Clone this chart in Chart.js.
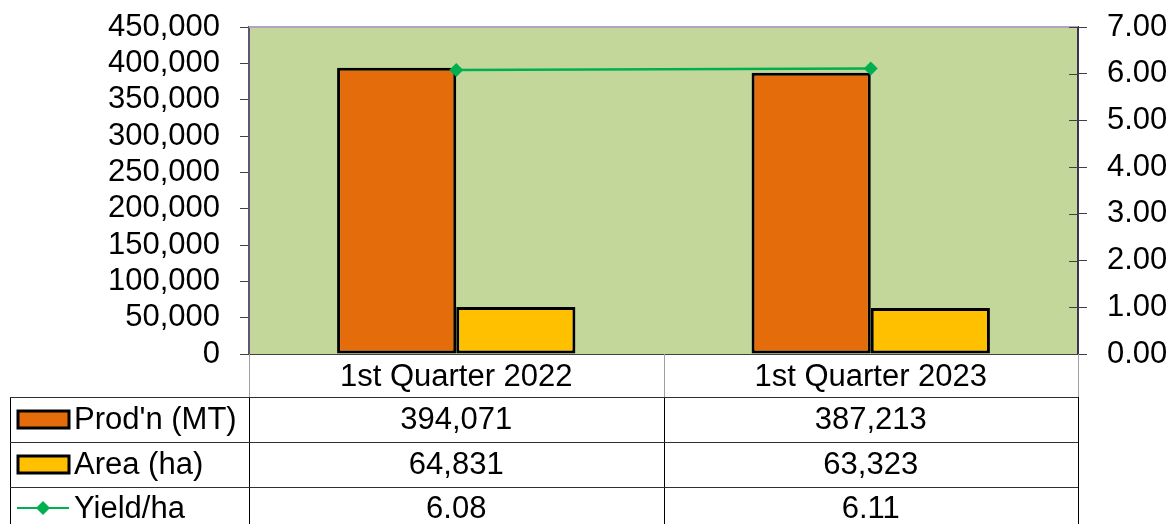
<!DOCTYPE html>
<html>
<head>
<meta charset="utf-8">
<script src="https://cdn.jsdelivr.net/npm/chart.js@4"></script>
<style>
  body { margin: 0; background: #fff; }
  canvas { display: block; }
</style>
</head>
<body>
<canvas id="grafico" width="1176" height="524"></canvas>
<script>
// DATOS
const categorias = ['1st Quarter 2022', '1st Quarter 2023']
const produccion = [394071, 387213]
const area = [64831, 63323]
const rendimiento = [6.08, 6.11]
const nombresSeries = ["Prod'n (MT)", 'Area (ha)', 'Yield/ha']

const FUENTE = '"Liberation Sans", Arial, sans-serif'
const TAM = 31
const NARANJA = '#E46C0A'
const AMARILLO = '#FFC000'
const VERDE = '#00B050'

function fmtMiles(v) {
    return Number(v).toLocaleString('en-US')
}

// plugin: fondo del área, bordes, y tabla de datos debajo
const pluginTabla = {
    id: 'tabla',
    beforeDraw(chart) {
        const { ctx, chartArea: a } = chart
        ctx.save()
        ctx.fillStyle = '#C4D79B'
        ctx.fillRect(a.left, a.top, a.right - a.left, a.bottom - a.top)
        ctx.restore()
    },
    afterDraw(chart) {
        const { ctx, chartArea: a } = chart
        const x = chart.scales.x
        const yR = chart.scales.yR
        ctx.save()

        // borde superior
        ctx.strokeStyle = '#B3A2C7'
        ctx.lineWidth = 2
        ctx.beginPath()
        ctx.moveTo(a.left, a.top)
        ctx.lineTo(a.right, a.top)
        ctx.stroke()

        // marcas interiores del eje derecho
        ctx.strokeStyle = '#404040'
        ctx.lineWidth = 1
        yR.ticks.forEach((t, i) => {
            const py = Math.round(yR.getPixelForTick(i)) + 0.5
            ctx.beginPath()
            ctx.moveTo(a.right - 9, py)
            ctx.lineTo(a.right, py)
            ctx.stroke()
        })

        // eje x
        ctx.strokeStyle = '#404040'
        ctx.beginPath()
        ctx.moveTo(a.left - 9, a.bottom + 0.5)
        ctx.lineTo(a.right, a.bottom + 0.5)
        ctx.stroke()

        // tabla
        const filas = [354, 397, 442, 487, 532]
        const izq = 10
        const paso = x.getPixelForValue(1) - x.getPixelForValue(0)
        const bordes = [a.left]
        for (let i = 0; i < categorias.length - 1; i++) {
            bordes.push(x.getPixelForValue(i) + paso / 2)
        }
        bordes.push(a.right)

        // líneas verticales de la fila de encabezado (gris)
        ctx.strokeStyle = '#A0A0A0'
        bordes.forEach((bx) => {
            ctx.beginPath()
            ctx.moveTo(Math.round(bx) + 0.5, filas[0])
            ctx.lineTo(Math.round(bx) + 0.5, filas[1])
            ctx.stroke()
        })
        // líneas verticales del resto
        ctx.strokeStyle = '#000'
        ;[izq, ...bordes].forEach((bx) => {
            ctx.beginPath()
            ctx.moveTo(Math.round(bx) + 0.5, filas[1])
            ctx.lineTo(Math.round(bx) + 0.5, 524)
            ctx.stroke()
        })
        // horizontales
        ctx.strokeStyle = '#303030'
        for (let r = 1; r < 4; r++) {
            ctx.beginPath()
            ctx.moveTo(izq, filas[r] + 0.5)
            ctx.lineTo(a.right, filas[r] + 0.5)
            ctx.stroke()
        }

        ctx.fillStyle = '#000'
        ctx.font = TAM + 'px ' + FUENTE
        ctx.textBaseline = 'middle'
        ctx.textAlign = 'center'
        categorias.forEach((c, i) => {
            ctx.fillText(c, x.getPixelForValue(i), 377)
        })
        const valores = [
            produccion.map(fmtMiles),
            area.map(fmtMiles),
            rendimiento.map((v) => v.toFixed(2)),
        ]
        const centros = [420, 465, 509]
        valores.forEach((fila, r) => {
            fila.forEach((v, i) => {
                ctx.fillText(v, x.getPixelForValue(i), centros[r])
            })
        })

        // claves de leyenda
        ctx.textAlign = 'left'
        const colores = [NARANJA, AMARILLO]
        for (let r = 0; r < 2; r++) {
            const cy = centros[r] - 1
            ctx.fillStyle = colores[r]
            ctx.fillRect(18, cy - 8, 51, 17)
            ctx.strokeStyle = '#000'
            ctx.lineWidth = 3
            ctx.strokeRect(18, cy - 8, 51, 17)
            ctx.fillStyle = '#000'
            ctx.fillText(nombresSeries[r], 74, centros[r])
        }
        const cy = centros[2] - 1
        ctx.strokeStyle = VERDE
        ctx.lineWidth = 2
        ctx.beginPath()
        ctx.moveTo(17, cy)
        ctx.lineTo(69, cy)
        ctx.stroke()
        ctx.fillStyle = VERDE
        ctx.beginPath()
        ctx.moveTo(43, cy - 7)
        ctx.lineTo(50, cy)
        ctx.lineTo(43, cy + 7)
        ctx.lineTo(36, cy)
        ctx.closePath()
        ctx.fill()
        ctx.fillStyle = '#000'
        ctx.fillText(nombresSeries[2], 74, centros[2])

        ctx.restore()
    },
}

function ajustarEje(ancho) {
    return (s) => {
        s.width = ancho
        s.paddingTop = 0
        s.paddingBottom = 0
    }
}

const ctx = document.getElementById('grafico').getContext('2d')
new Chart(ctx, {
    type: 'bar',
    data: {
        labels: categorias,
        datasets: [
            {
                type: 'line',
                label: nombresSeries[2],
                data: rendimiento,
                yAxisID: 'yR',
                borderColor: VERDE,
                backgroundColor: VERDE,
                borderWidth: 2.5,
                pointStyle: 'rectRot',
                pointRadius: 7,
                pointBorderWidth: 0,
                order: 0,
            },
            {
                label: nombresSeries[0],
                data: produccion,
                yAxisID: 'y',
                backgroundColor: NARANJA,
                borderColor: '#000',
                borderWidth: 3,
                borderSkipped: false,
                barPercentage: 1,
                categoryPercentage: 0.575,
                order: 1,
            },
            {
                label: nombresSeries[1],
                data: area,
                yAxisID: 'y',
                backgroundColor: AMARILLO,
                borderColor: '#000',
                borderWidth: 3,
                borderSkipped: false,
                barPercentage: 1,
                categoryPercentage: 0.575,
                order: 1,
            },
        ],
    },
    options: {
        responsive: false,
        animation: false,
        layout: { padding: { top: 27, bottom: 170, left: 0, right: 0 } },
        plugins: {
            legend: { display: false },
            tooltip: { enabled: false },
        },
        scales: {
            x: { display: false },
            y: {
                position: 'left',
                min: 0,
                max: 450000,
                afterFit: ajustarEje(249),
                ticks: {
                    stepSize: 50000,
                    autoSkip: false,
                    color: '#000',
                    padding: 20,
                    font: { family: FUENTE, size: TAM, lineHeight: 1 },
                    callback: (v) => fmtMiles(v),
                },
                grid: { drawOnChartArea: false, tickLength: 9, color: '#404040' },
                border: { color: '#5F5475', width: 2 },
            },
            yR: {
                position: 'right',
                min: 0,
                max: 7,
                afterFit: ajustarEje(98),
                ticks: {
                    stepSize: 1,
                    autoSkip: false,
                    color: '#000',
                    padding: 20,
                    font: { family: FUENTE, size: TAM, lineHeight: 1 },
                    callback: (v) => Number(v).toFixed(2),
                },
                grid: { drawOnChartArea: false, tickLength: 9, color: '#404040' },
                border: { color: '#3F3151', width: 2 },
            },
        },
    },
    plugins: [pluginTabla],
})
</script>
</body>
</html>
